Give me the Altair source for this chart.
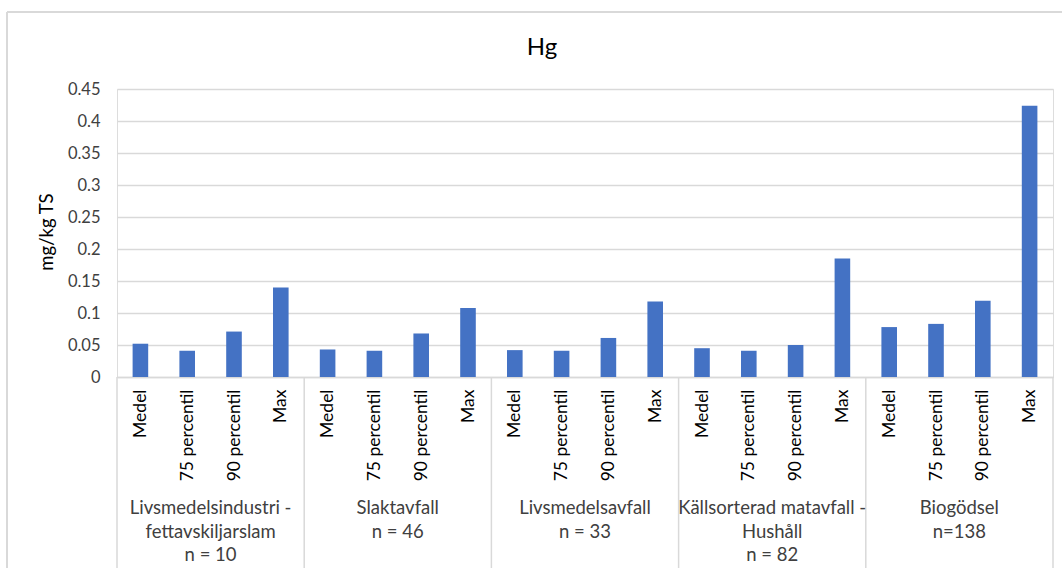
import altair as alt
import pandas as pd

# Hg content (mg/kg TS) per substrate category
groups = [
    "Livsmedelsindustri -\nfettavskiljarslam\nn = 10",
    "Slaktavfall\nn = 46",
    "Livsmedelsavfall\nn = 33",
    "Källsorterad matavfall -\nHushåll\nn = 82",
    "Biogödsel\nn=138",
]
stats = ["Medel", "75 percentil", "90 percentil", "Max"]
values = [
    [0.052, 0.041, 0.071, 0.140],
    [0.043, 0.041, 0.068, 0.108],
    [0.042, 0.041, 0.061, 0.118],
    [0.045, 0.041, 0.050, 0.185],
    [0.078, 0.083, 0.119, 0.424],
]
y_ticks = [0, 0.05, 0.1, 0.15, 0.2, 0.25, 0.3, 0.35, 0.4, 0.45]

FONT = "Lato"
W, H = 936, 288
PAD_L, PAD_T = 117, 89
BLUE = "#4472C4"
GRID = "#d9d9d9"

rows = []
for gi, g in enumerate(groups):
    for si, s in enumerate(stats):
        pos = gi * len(stats) + si
        rows.append({"group": g, "stat": s, "value": values[gi][si],
                     "x0": pos + 0.5 - 1 / 6, "x1": pos + 0.5 + 1 / 6})
bars_df = pd.DataFrame(rows)

n_total = len(groups) * len(stats)
xscale = alt.Scale(domain=[0, n_total], nice=False, zero=False)
yscale = alt.Scale(domain=[0, 0.45], nice=False)

label_list = "[" + ",".join("'" + s + "'" for s in stats) + "]"

bars = alt.Chart(bars_df).mark_bar(color=BLUE).encode(
    x=alt.X("x0:Q", scale=xscale, axis=alt.Axis(
        values=[i + 0.5 for i in range(n_total)],
        labelExpr=f"{label_list}[floor(datum.value) % {len(stats)}]",
        labelAngle=270, labelAlign="right", labelBaseline="middle",
        labelPadding=12, tickSize=0, grid=False, title=None,
        domainColor=GRID, domainWidth=1.5,
        labelFont=FONT, labelFontSize=17.5, labelColor="#000000",
        labelOverlap=False,
    )),
    x2="x1:Q",
    y=alt.Y("value:Q", scale=yscale, axis=alt.Axis(
        values=y_ticks, format="~g", title=None, domain=False, ticks=False,
        gridColor=GRID, gridWidth=1.5, labelPadding=17,
        labelFont=FONT, labelFontSize=16.5, labelColor="#404040",
    )),
    y2=alt.datum(0),
)

# group separators below the axis
sep_df = pd.DataFrame({"b": [i * len(stats) for i in range(len(groups) + 1)]})
seps = alt.Chart(sep_df).mark_rule(color=GRID, strokeWidth=1.5).encode(
    x=alt.X("b:Q", scale=xscale),
    y=alt.value(H), y2=alt.value(H + 195),
)

# group names under the rotated stat labels
grp_df = pd.DataFrame({"g": groups,
                       "c": [i * len(stats) + len(stats) / 2 for i in range(len(groups))]})
grp_text = alt.Chart(grp_df).mark_text(
    font=FONT, fontSize=18.5, color="#404040", baseline="top",
    lineBreak="\n", lineHeight=23.5, align="center",
).encode(
    x=alt.X("c:Q", scale=xscale),
    y=alt.value(H + 122),
    text="g:N",
)

title = alt.Chart(pd.DataFrame({"t": ["Hg"]})).mark_text(
    font=FONT, fontSize=24, color="#000000", baseline="middle",
).encode(x=alt.value(542 - PAD_L), y=alt.value(48 - PAD_T), text="t:N")

ytitle = alt.Chart(pd.DataFrame({"t": ["mg/kg TS"]})).mark_text(
    font=FONT, fontSize=18.5, color="#000000", angle=270, baseline="middle",
).encode(x=alt.value(47 - PAD_L), y=alt.value(232 - PAD_T), text="t:N")

# outer chart frame (left and top edges)
frame_left = alt.Chart(pd.DataFrame({"k": [0]})).mark_rule(color=GRID, strokeWidth=2).encode(
    x=alt.value(7 - PAD_L), y=alt.value(12 - PAD_T), y2=alt.value(600 - PAD_T))
frame_top = alt.Chart(pd.DataFrame({"k": [0]})).mark_rule(color=GRID, strokeWidth=2).encode(
    x=alt.value(7 - PAD_L), x2=alt.value(1070 - PAD_L), y=alt.value(12 - PAD_T))

chart = alt.layer(frame_left, frame_top, seps, bars, grp_text, title, ytitle).properties(
    width=W, height=H,
    autosize=alt.AutoSizeParams(type="none"),
    padding={"left": PAD_L, "top": PAD_T, "right": 1062 - PAD_L - W, "bottom": 568 - PAD_T - H},
).configure_view(stroke=None).configure(background="white")

chart.save("out.html", embed_options={"renderer": "svg", "actions": False})
